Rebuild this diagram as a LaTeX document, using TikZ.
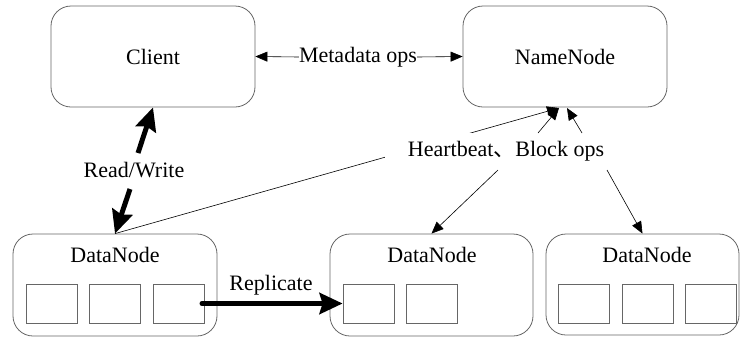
\documentclass[tikz,border=0pt]{standalone}
\usepackage{fontspec}
\setmainfont{Liberation Serif}
\newfontfamily\cjk{Noto Sans CJK SC}
\usetikzlibrary{arrows.meta}
\begin{document}
\begin{tikzpicture}[x=1pt,y=-1pt,
  txt/.style={font=\fontsize{22}{24}\selectfont},
  big/.style={draw=black!60, rounded corners=20pt, line width=0.8pt, txt},
  cell/.style={draw=black!60, line width=0.8pt, minimum width=51pt, minimum height=39pt, inner sep=0pt},
  lbl/.style={txt, inner sep=0pt},
  thinarrow/.style={-{Triangle[length=12pt,width=10pt]}, line width=0.6pt},
  thickarrow/.style={-{Stealth[length=23pt,width=21pt,inset=3pt]}, line width=5pt}
]
\useasboundingbox (0,0) rectangle (740,338);

% top boxes
\node[big, minimum width=204pt, minimum height=101pt] (client) at (153,56.5) {Client};
\node[big, minimum width=204pt, minimum height=101pt] (nn) at (565,56.5) {NameNode};

% data node boxes
\node[big, minimum width=204pt, minimum height=102pt] (dn1) at (115,285) {};
\node[big, minimum width=203pt, minimum height=102pt] (dn2) at (431.5,285) {};
\node[big, minimum width=193pt, minimum height=101pt] (dn3) at (642.5,284.5) {};
\node[lbl] (dn1t) at (115,255) {DataNode};
\node[lbl] (dn2t) at (432,255) {DataNode};
\node[lbl] (dn3t) at (647,255) {DataNode};

% cells
\node[cell] (c11) at (52,303.5) {};
\node[cell] (c12) at (114.5,303.5) {};
\node[cell] (c13) at (178.5,303.5) {};
\node[cell] (c21) at (368.5,303.5) {};
\node[cell] (c22) at (432,303.5) {};
\node[cell] (c31) at (584,303.5) {};
\node[cell] (c32) at (647.5,303.5) {};
\node[cell] (c33) at (711,303.5) {};

% metadata ops
\node[lbl] (meta) at (358,57) {Metadata ops};
\draw[thinarrow] (meta.west) -- (client.east);
\draw[thinarrow] (meta.east) -- (nn.west);

% heartbeat
\coordinate (hbtip1) at (559,108);
\coordinate (hbtip2) at (567,108);
\draw[thinarrow] (dn1.north) -- (hbtip1);
\node[lbl, fill=white, minimum width=242pt, minimum height=37pt] (hb) at (506,151.5) {Heartbeat{\cjk 、}Block ops};
\coordinate (hbs1) at (538,133);
\coordinate (hbs2) at (582,133);
\coordinate (hbd1) at (498,170);
\coordinate (hbd2) at (607,170);
\draw[thinarrow] (hbs1) -- (hbtip1);
\draw[thinarrow] (hbs2) -- (hbtip2);
\draw[thinarrow] (hbd1) -- (dn2.north);
\draw[thinarrow] (hbd2) -- (dn3.north);

% read/write
\node[lbl] (rw) at (134,170) {Read/Write};
\coordinate (rwup) at (138,153);
\coordinate (rwdn) at (130,189);
\draw[thickarrow] (rwup) -- (client.south);
\draw[thickarrow] (rwdn) -- (dn1.north);

% replicate
\node[lbl] (rep) at (271,285) {Replicate};
\coordinate (repst) at (202,303.5);
\draw[thickarrow, line cap=round] (repst) -- (c21.west);
\end{tikzpicture}
\end{document}
